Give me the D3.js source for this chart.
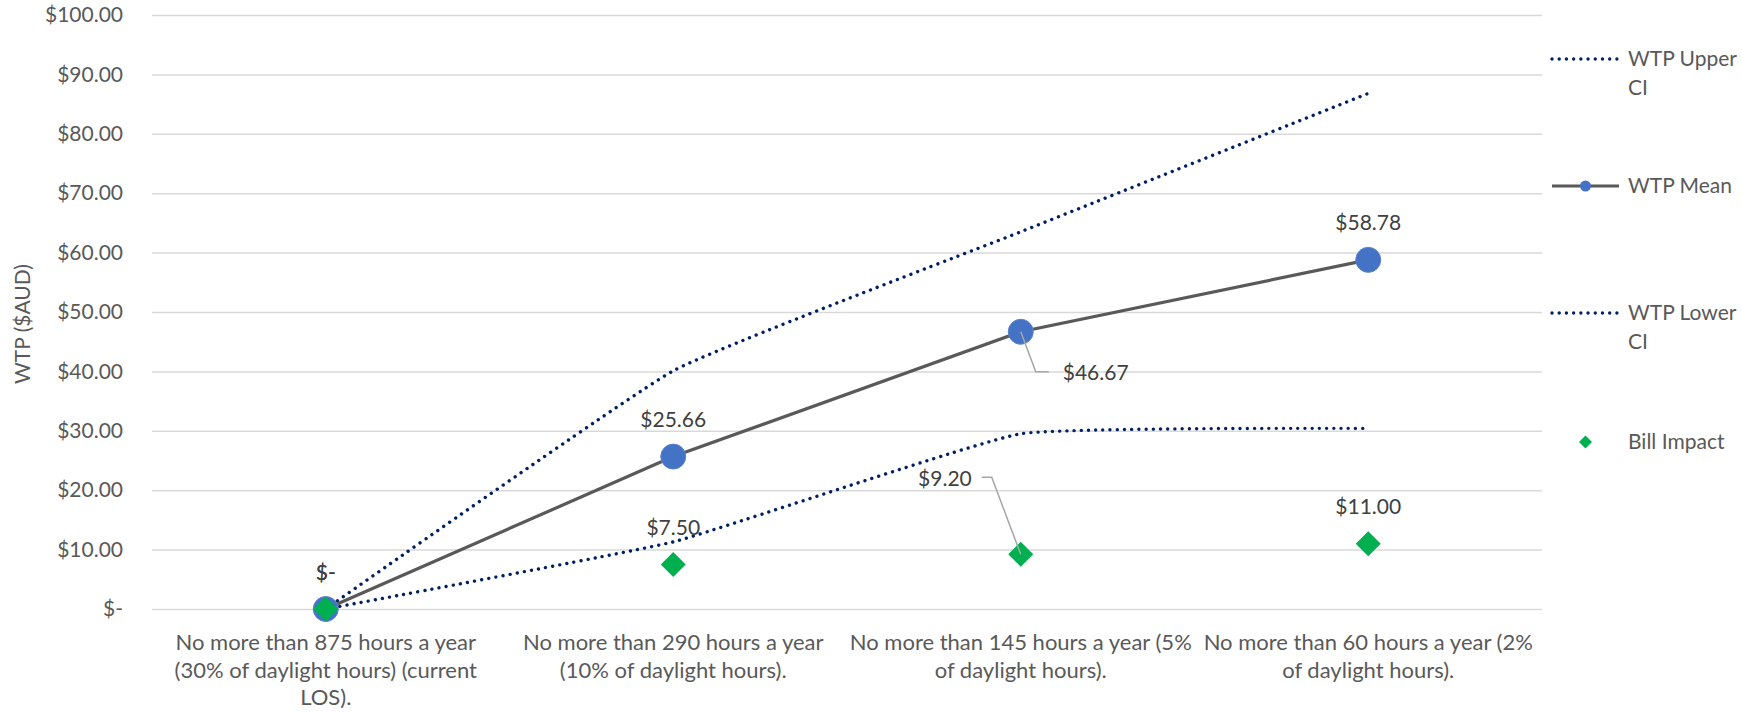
<!DOCTYPE html>
<html>
<head>
<meta charset="utf-8">
<script src="https://cdn.jsdelivr.net/npm/d3@7"></script>
<style>
  body { margin: 0; background: #fff; }
  svg { display: block; font-family: Lato, "Open Sans", sans-serif; }
</style>
</head>
<body>
<svg id="chart" width="1742" height="712"></svg>
<script>
// Level-of-service options (each entry is one wrapped label, line by line)
const categories = [
  ["No more than 875 hours a year", "(30% of daylight hours) (current", "LOS)."],
  ["No more than 290 hours a year", "(10% of daylight hours)."],
  ["No more than 145 hours a year (5%", "of daylight hours)."],
  ["No more than 60 hours a year (2%", "of daylight hours)."]
];

// Willingness to pay and bill impact, $AUD
const wtpUpper   = [0, 40.1, 63.5, 86.8];
const wtpMean    = [0, 25.66, 46.67, 58.78];
const wtpLower   = [0, 11.3, 29.5, 30.4];
const billImpact = [0, 7.50, 9.20, 11.00];

const yTicks = [0, 10, 20, 30, 40, 50, 60, 70, 80, 90, 100];
const yTitle = "WTP ($AUD)";
const legendNames = [["WTP Upper", "CI"], ["WTP Mean"], ["WTP Lower", "CI"], ["Bill Impact"]];

// ---- layout ----
const plot = { left: 152, right: 1542, top: 15, bottom: 609 };
const FONT = 21;
const CAT_FONT = 22;
const C = {
  grid: "#d9d9d9", axisText: "#595959", label: "#404040",
  ci: "#002060", mean: "#595959", marker: "#4472c4", bill: "#00b050", leader: "#a6a6a6"
};

const svg = d3.select("#chart");

const x = d3.scaleBand().domain(d3.range(categories.length)).range([plot.left, plot.right]);
const cx = i => x(i) + x.bandwidth() / 2;
const y = d3.scaleLinear().domain([0, 100]).range([plot.bottom, plot.top]);

const money = v => v === 0 ? "$-" : "$" + d3.format(",.2f")(v);

// y axis with gridlines
const yAxis = svg.append("g")
  .attr("transform", `translate(${plot.left},0)`)
  .call(d3.axisLeft(y).tickValues(yTicks).tickFormat(money)
        .tickSize(-(plot.right - plot.left)).tickPadding(29));
yAxis.select(".domain").remove();
yAxis.selectAll(".tick line").attr("stroke", C.grid).attr("stroke-width", 1.5);
yAxis.selectAll(".tick text")
  .attr("fill", C.axisText).style("font-size", FONT + "px")
  .style("font-family", "Lato, 'Open Sans', sans-serif");

// y title
svg.append("text")
  .attr("transform", `translate(21,${(plot.top + plot.bottom) / 2 + 12}) rotate(-90)`)
  .attr("text-anchor", "middle").attr("dominant-baseline", "central")
  .attr("fill", C.axisText).style("font-size", FONT + "px")
  .text(yTitle);

// category labels
const xAxis = svg.append("g")
  .attr("transform", `translate(0,${plot.bottom})`)
  .call(d3.axisBottom(x).tickSize(0).tickFormat(""));
xAxis.select(".domain").remove();
xAxis.selectAll(".tick").each(function (i) {
  const t = d3.select(this).append("text")
    .attr("fill", C.axisText).attr("text-anchor", "middle")
    .style("font-size", CAT_FONT + "px")
    .style("font-family", "Lato, 'Open Sans', sans-serif");
  categories[i].forEach((line, k) => {
    t.append("tspan").attr("x", 0).attr("y", 41 + k * 27.5).text(line);
  });
});

// series lines (confidence bounds gently rounded at the joints)
const smooth = d3.line().x((d, i) => cx(i)).y(d => y(d)).curve(d3.curveCardinal.tension(0.65));
const straight = d3.line().x((d, i) => cx(i)).y(d => y(d));

const dotted = sel => sel.attr("fill", "none").attr("stroke", C.ci)
  .attr("stroke-width", 3.4).attr("stroke-linecap", "round").attr("stroke-dasharray", "0.01 7.2");

svg.append("path").datum(wtpUpper).attr("d", smooth).call(dotted);
svg.append("path").datum(wtpMean).attr("d", straight)
  .attr("fill", "none").attr("stroke", C.mean).attr("stroke-width", 3.2);
svg.append("g").selectAll("circle").data(wtpMean).join("circle")
  .attr("cx", (d, i) => cx(i)).attr("cy", d => y(d)).attr("r", 12.5)
  .attr("fill", C.marker).attr("stroke", "#5b84cc").attr("stroke-width", 1);
svg.append("path").datum(wtpLower).attr("d", smooth).call(dotted);

const diamond = (px, py, r) => `M${px},${py - r}L${px + r},${py}L${px},${py + r}L${px - r},${py}Z`;
svg.append("g").selectAll("path").data(billImpact).join("path")
  .attr("d", (d, i) => diamond(cx(i), y(d), 12.5)).attr("fill", C.bill);

// data labels
const labelG = svg.append("g").attr("fill", C.label).style("font-size", FONT + "px");
function label(i, v, dx, dy, anchor) {
  labelG.append("text")
    .attr("x", cx(i) + dx).attr("y", y(v) + dy)
    .attr("text-anchor", anchor).attr("dominant-baseline", "central")
    .text(money(v));
}
function leader(pts) {
  svg.append("path").attr("d", d3.line()(pts))
    .attr("fill", "none").attr("stroke", C.leader).attr("stroke-width", 1.5);
}

wtpMean.forEach((v, i) => {
  if (i === 2) {
    const px = cx(i), py = y(v);
    leader([[px, py], [px + 15, py + 40], [px + 28, py + 40]]);
    label(i, v, 42, 40, "start");
  } else {
    label(i, v, 0, -38, "middle");
  }
});
billImpact.forEach((v, i) => {
  if (i === 2) {
    const px = cx(i), py = y(v);
    leader([[px, py], [px - 29, py - 77], [px - 39, py - 77]]);
    label(i, v, -49, -77, "end");
  } else {
    label(i, v, 0, -38, "middle");
  }
});

// legend
const legend = svg.append("g");
const legY = [59, 186, 313, 442];
const lx0 = 1552, lx1 = 1619, lxText = 1628;
legendNames.forEach((names, k) => {
  const g = legend.append("g").attr("transform", `translate(0,${legY[k]})`);
  if (k === 0 || k === 2) {
    g.append("line").attr("x1", lx0).attr("x2", lx1 - 2).attr("y1", 0).attr("y2", 0).call(dotted);
  } else if (k === 1) {
    g.append("line").attr("x1", lx0).attr("x2", lx1).attr("y1", 0).attr("y2", 0)
      .attr("stroke", C.mean).attr("stroke-width", 3.2);
    g.append("circle").attr("cx", (lx0 + lx1) / 2).attr("cy", 0).attr("r", 5.5).attr("fill", C.marker);
  } else {
    g.append("path").attr("d", diamond((lx0 + lx1) / 2, 0, 6.5)).attr("fill", C.bill);
  }
  const t = g.append("text").attr("fill", C.axisText).style("font-size", FONT + "px");
  names.forEach((n, j) => {
    t.append("tspan").attr("x", lxText).attr("y", j * 29).attr("dy", "0.35em").text(n);
  });
});
</script>
</body>
</html>
